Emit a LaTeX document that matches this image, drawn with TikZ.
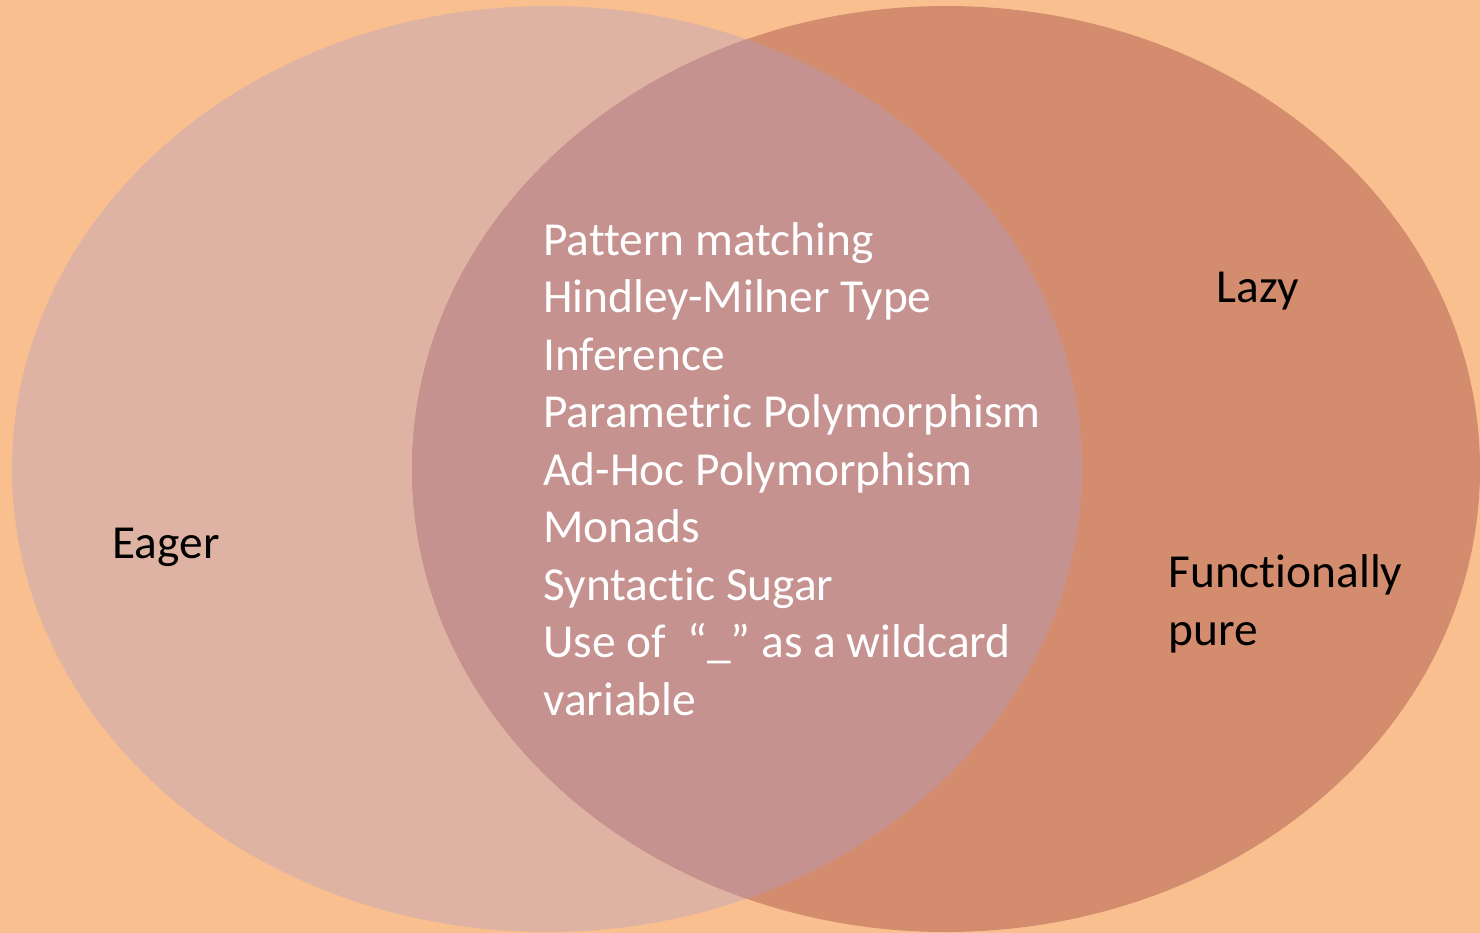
\documentclass[tikz,border=0pt]{standalone}
\usepackage{fontspec}
\setmainfont[Ligatures=NoCommon]{Carlito}
\definecolor{bgc}{HTML}{F9BF8F}
\definecolor{leftc}{HTML}{DFB3A4}
\definecolor{rightc}{HTML}{D38C6E}
\definecolor{midc}{HTML}{C59290}
\begin{document}
\begin{tikzpicture}[x=0.5pt,y=-0.5pt,
  lbl/.style={inner sep=0pt,font=\fontsize{23.7pt}{28.75pt}\selectfont,align=left},
  whitelbl/.style={lbl,text=white},
  blacklbl/.style={lbl,text=black}]
\fill[bgc] (0,0) rectangle (1480,933);
\useasboundingbox (0,0) rectangle (1480,933);
\fill[leftc] (547,469) ellipse [x radius=535, y radius=463];
\fill[rightc] (946,469) ellipse [x radius=534, y radius=463];
\begin{scope}
  \clip (547,469) ellipse [x radius=535, y radius=463];
  \fill[midc] (946,469) ellipse [x radius=534, y radius=463];
\end{scope}
\node[whitelbl,anchor=base west] (common) at (543,715) {Pattern matching\\Hindley-Milner Type\\Inference\\Parametric Polymorphism\\Ad-Hoc Polymorphism\\Monads\\Syntactic Sugar\\Use of~~``\_'' as a wildcard\\variable};
\node[blacklbl,anchor=base west] (eager) at (112,558) {Eager};
\node[blacklbl,anchor=base west] (lazy) at (1216,302) {Lazy};
\node[blacklbl,anchor=base west] (pure) at (1168,645) {Functionally\\pure};
\end{tikzpicture}
\end{document}
